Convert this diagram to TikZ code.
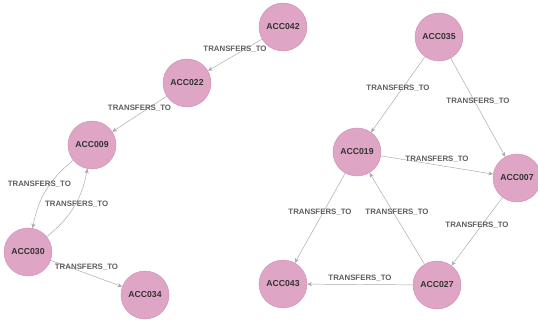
\documentclass[tikz,border=0pt]{standalone}
\usepackage{fontspec}
\setmainfont{Liberation Sans}
\usetikzlibrary{arrows.meta}

\definecolor{accfill}{RGB}{222,166,196}
\definecolor{accline}{RGB}{206,146,180}
\definecolor{edgegray}{RGB}{168,168,168}
\definecolor{labelgray}{RGB}{95,95,95}
\definecolor{acctext}{RGB}{51,51,51}

\tikzset{
  account/.style={circle, fill=accfill, draw=accline, line width=0.4pt,
    minimum size=1.44cm, inner sep=0pt, text=acctext,
    font=\fontsize{7.4}{8}\selectfont\bfseries},
  rel/.style={draw=edgegray, line width=0.4pt,
    -{Stealth[length=4pt,width=3.5pt]}},
  rellabel/.style={font=\fontsize{6.7}{7}\selectfont\bfseries,
    text=labelgray, inner sep=0.5pt, yshift=0.18cm}
}

\begin{document}
\begin{tikzpicture}[x=0.03cm, y=-0.03cm]
\useasboundingbox (0,0) rectangle (538,320);

% left chain
\node[account] (acc042) at (283,27) {ACC042};
\node[account] (acc022) at (187,83) {ACC022};
\node[account] (acc009) at (92,145) {ACC009};
\node[account] (acc030) at (28,252) {ACC030};
\node[account] (acc034) at (145,295) {ACC034};

% right group
\node[account] (acc035) at (439,37) {ACC035};
\node[account] (acc019) at (357,152) {ACC019};
\node[account] (acc007) at (517,178) {ACC007};
\node[account] (acc027) at (437,285) {ACC027};
\node[account] (acc043) at (283,284) {ACC043};

\draw[rel] (acc042) -- node[rellabel, midway] {TRANSFERS\_TO} (acc022);
\draw[rel] (acc022) -- node[rellabel, midway] {TRANSFERS\_TO} (acc009);
\draw[rel] (acc009) to[bend right=20] node[rellabel, midway, xshift=-0.2cm] {TRANSFERS\_TO} (acc030);
\draw[rel] (acc030) to[bend right=20] node[rellabel, midway, yshift=-0.1cm, xshift=0.08cm] {TRANSFERS\_TO} (acc009);
\draw[rel] (acc030) -- node[rellabel, midway] {TRANSFERS\_TO} (acc034);

\draw[rel] (acc035) -- node[rellabel, midway] {TRANSFERS\_TO} (acc019);
\draw[rel] (acc035) -- node[rellabel, midway] {TRANSFERS\_TO} (acc007);
\draw[rel] (acc019) -- node[rellabel, midway] {TRANSFERS\_TO} (acc007);
\draw[rel] (acc019) -- node[rellabel, midway] {TRANSFERS\_TO} (acc043);
\draw[rel] (acc027) -- node[rellabel, midway] {TRANSFERS\_TO} (acc019);
\draw[rel] (acc007) -- node[rellabel, midway] {TRANSFERS\_TO} (acc027);
\draw[rel] (acc027) -- node[rellabel, midway] {TRANSFERS\_TO} (acc043);
\end{tikzpicture}
\end{document}
